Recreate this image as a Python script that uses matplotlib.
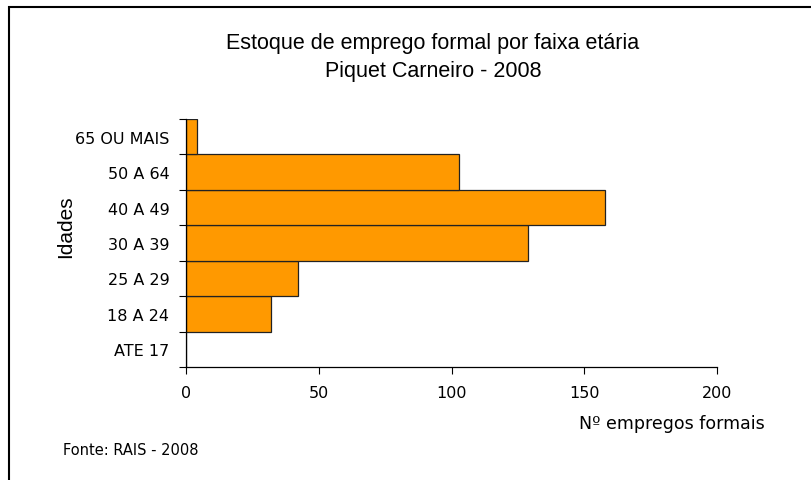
import matplotlib
matplotlib.use("Agg")
import matplotlib.pyplot as plt
import numpy as np
from matplotlib.patches import Rectangle

# faixas etárias, de baixo para cima
faixas = ["ATE 17", "18 A 24", "25 A 29", "30 A 39", "40 A 49", "50 A 64", "65 OU MAIS"]
empregos = [0, 32, 42, 129, 158, 103, 4]
xticks = [0, 50, 100, 150, 200]

fig = plt.figure(figsize=(8.11, 4.81), dpi=100)
ax = fig.add_axes([186 / 811, 1 - 368 / 481, (717 - 186) / 811, (368 - 120) / 481])

y = np.arange(len(faixas))
ax.barh(y, empregos, height=1.0, color="#FF9900", edgecolor="#222222", linewidth=0.9)

ax.set_xlim(0, 200)
ax.set_ylim(-0.5, len(faixas) - 0.5)
ax.set_xticks(xticks)
ax.set_xticklabels([str(v) for v in xticks], fontsize=11.5, family="DejaVu Sans")
ax.set_yticks(y)
ax.set_yticklabels(faixas, fontsize=11.5, family="DejaVu Sans")
ax.tick_params(axis="y", length=0, pad=12)
ax.set_yticks(np.arange(-0.5, len(faixas)), minor=True)
ax.tick_params(axis="y", which="minor", length=5, width=0.8)
ax.tick_params(axis="x", length=5, width=0.8, pad=8)

for s in ["top", "right"]:
    ax.spines[s].set_visible(False)
ax.spines["left"].set_linewidth(0.9)
ax.spines["bottom"].set_linewidth(0.9)

fig.text(433 / 811, 1 - 43 / 481, "Estoque de emprego formal por faixa etária",
         ha="center", va="center", fontsize=15.5, family="Liberation Sans")
fig.text(433 / 811, 1 - 72 / 481, "Piquet Carneiro - 2008",
         ha="center", va="center", fontsize=15.5, family="Liberation Sans")
fig.text(66 / 811, 1 - 227 / 481, "Idades", rotation=90, ha="center", va="center",
         fontsize=15, family="Liberation Sans")
fig.text(765 / 811, 1 - 424 / 481, "Nº empregos formais", ha="right", va="center",
         fontsize=12.5, family="DejaVu Sans")
fig.text(63 / 811, 1 - 451 / 481, "Fonte: RAIS - 2008", ha="left", va="center",
         fontsize=10.5, family="DejaVu Sans")

# moldura do gráfico
fig.patches.append(Rectangle((8.5 / 811, -0.1), 1.2, 1 - 7.5 / 481 + 0.1,
                             transform=fig.transFigure, fill=False,
                             edgecolor="black", linewidth=1.5))

fig.savefig("out.png", dpi=100)
